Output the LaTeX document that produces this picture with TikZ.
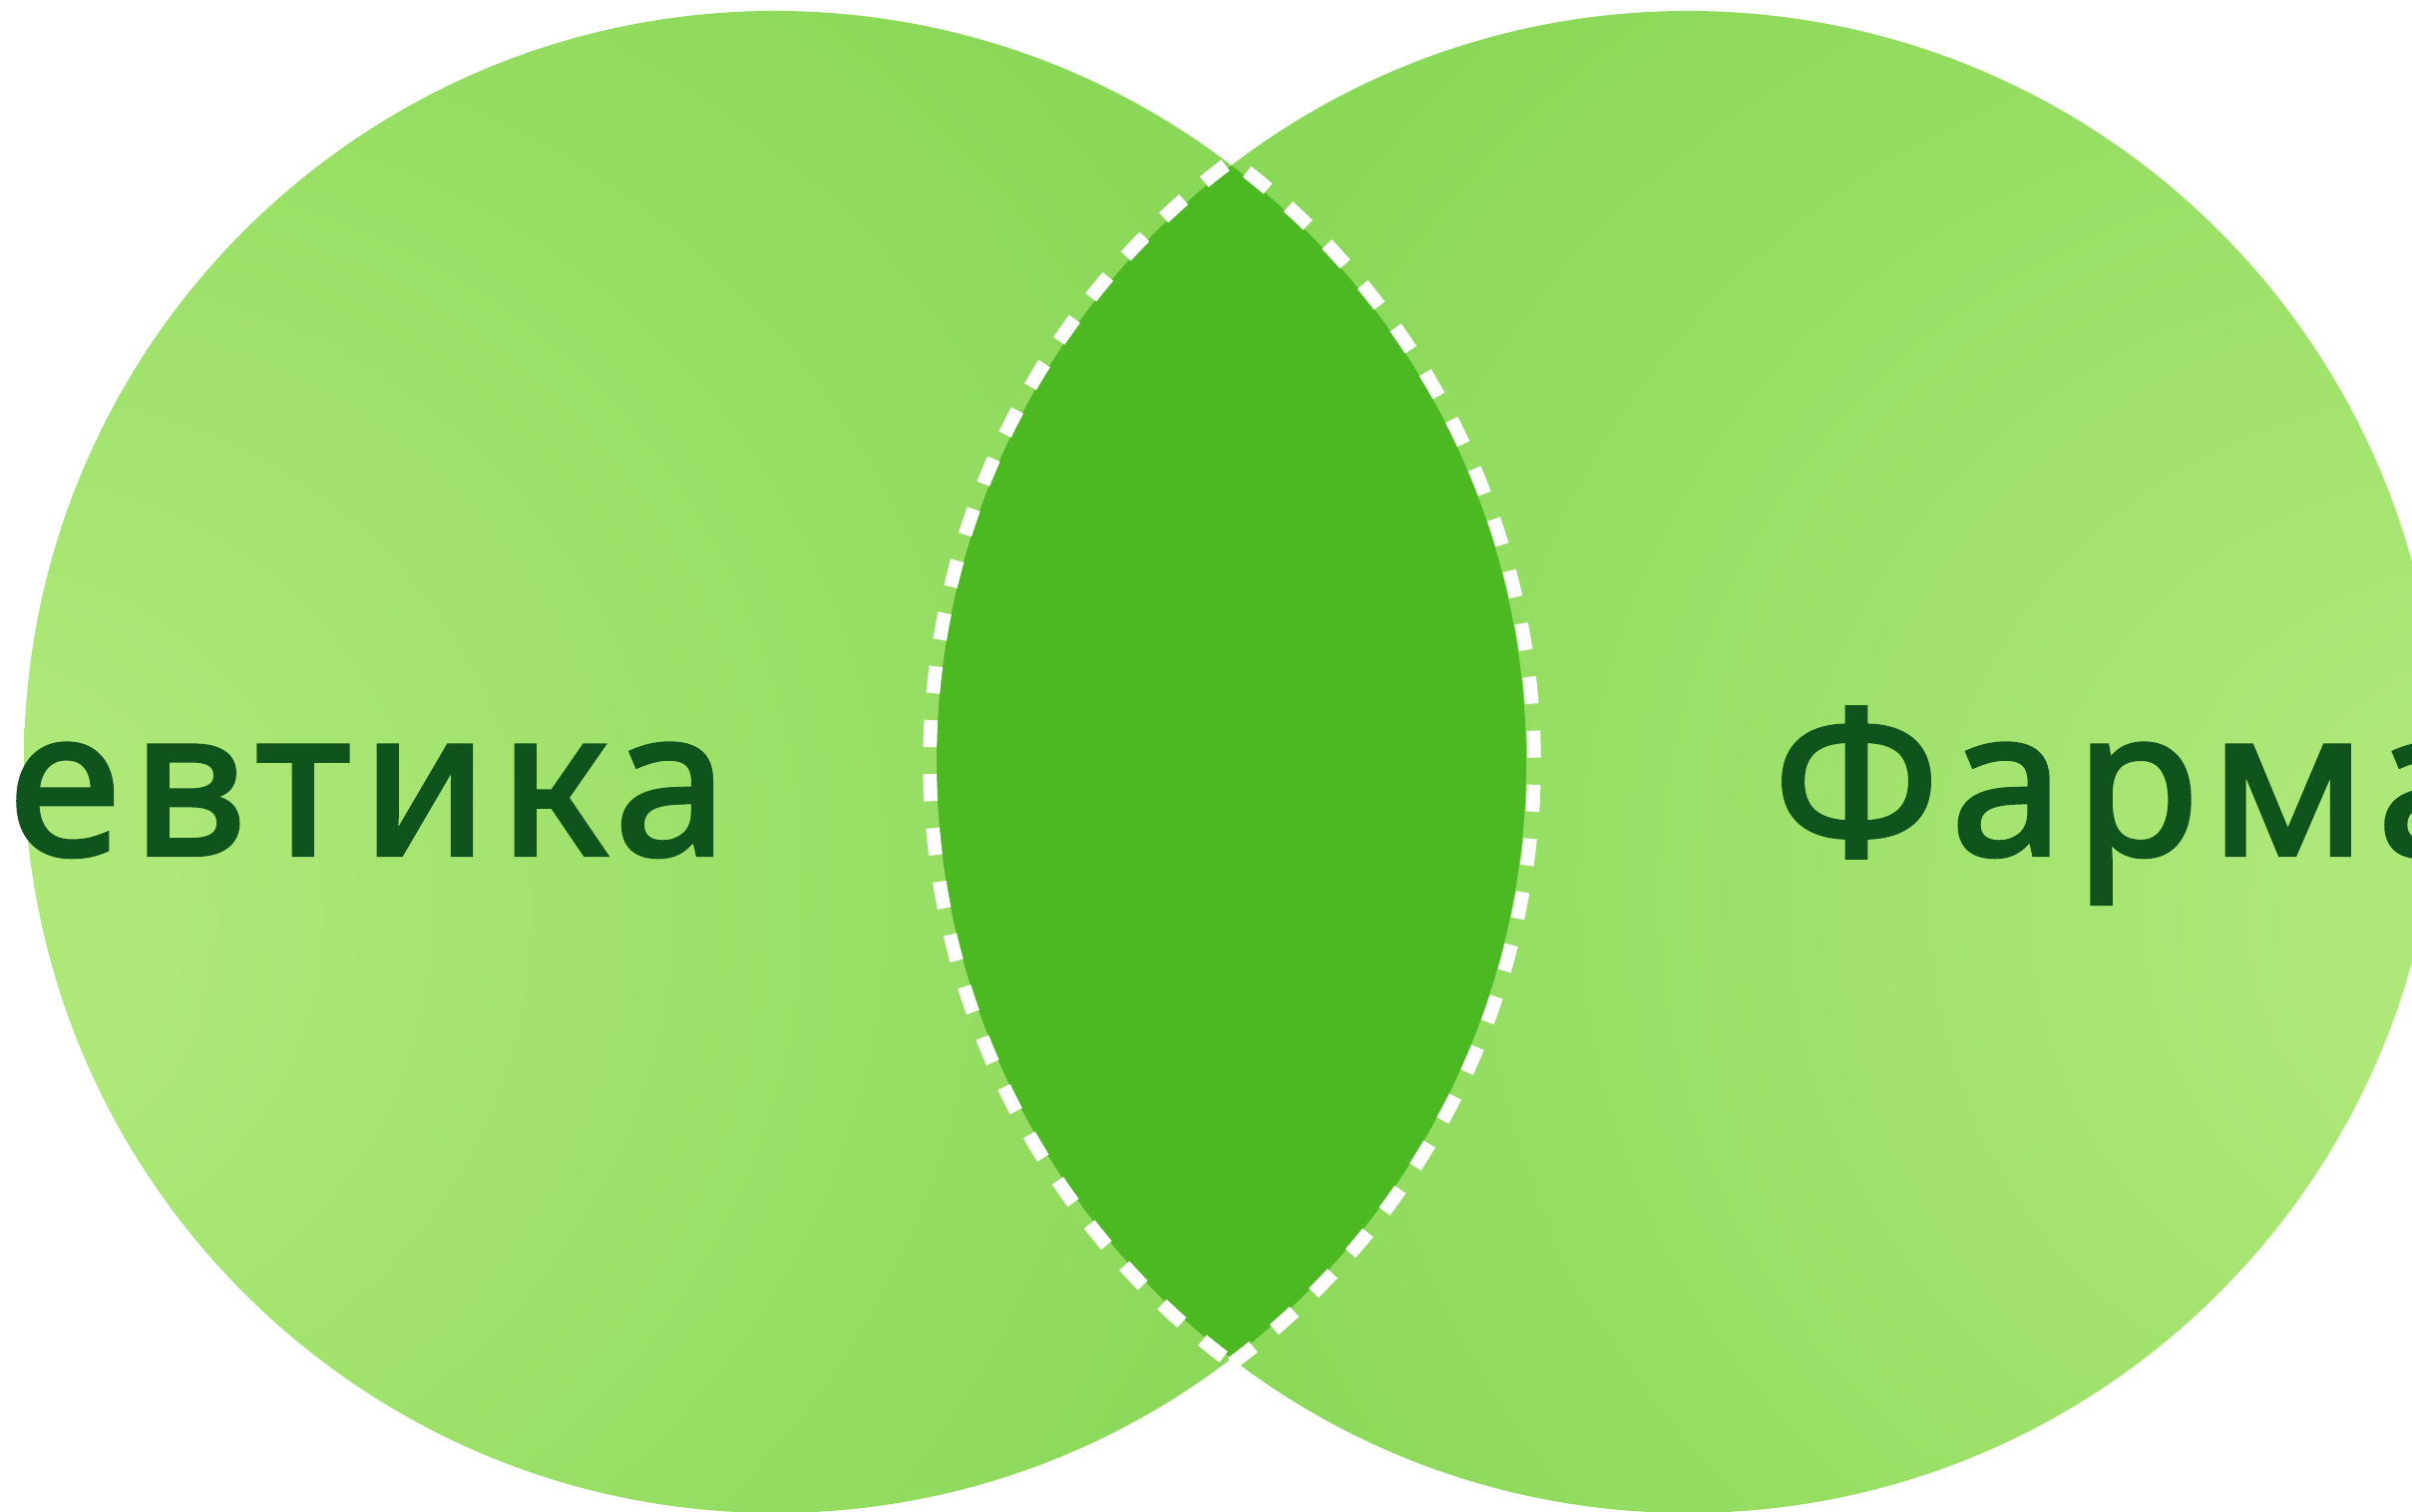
\documentclass[tikz,border=0pt]{standalone}
\usepackage{fontspec}
\setmainfont{Noto Sans}[FakeBold=2.2, LetterSpace=5.5]
\usetikzlibrary{positioning}
\definecolor{leaflight}{RGB}{173,232,120}
\definecolor{leafmid}{RGB}{138,216,88}
\definecolor{overlap}{RGB}{76,184,34}
\definecolor{ink}{RGB}{14,84,28}
\pgfdeclareradialshading{glowleft}{\pgfpoint{-31bp}{-6bp}}{color(0bp)=(leaflight); color(8bp)=(leaflight); color(38bp)=(leafmid); color(90bp)=(leafmid)}
\pgfdeclareradialshading{glowright}{\pgfpoint{31bp}{-6bp}}{color(0bp)=(leaflight); color(8bp)=(leaflight); color(38bp)=(leafmid); color(90bp)=(leafmid)}
\tikzset{
  every picture/.style={x=0.01cm, y=0.01cm},
  field/.style={draw=none},
  lens/.style={fill=overlap, draw=none},
  rim/.style={draw=white, line width=3.9pt, dash pattern=on 7.7pt off 7.7pt},
  areaname/.style={inner sep=0pt, text=ink, font=\fontsize{58}{60}\selectfont\bfseries},
}
\begin{document}
\begin{tikzpicture}
  \useasboundingbox (0,0) rectangle (2418,1516);
  % the two fields
  \path[field, shading=glowleft] (777,752) circle[radius=753];
  \path[field, shading=glowright] (1692,752) circle[radius=753];
  % common part
  \begin{scope}
    \clip (777,752) circle[radius=753];
    \fill[lens] (1692,752) circle[radius=753];
  \end{scope}
  \draw[rim] (1235,149) arc[start angle=-53.33, end angle=53.33, radius=752]
    arc[start angle=126.67, end angle=233.33, radius=752] -- cycle;
  \node[areaname, anchor=base east] (left) at (730,659) {евтика};
  \node[areaname, anchor=base west] (right) at (1777,659) {Фарма};
\end{tikzpicture}
\end{document}
